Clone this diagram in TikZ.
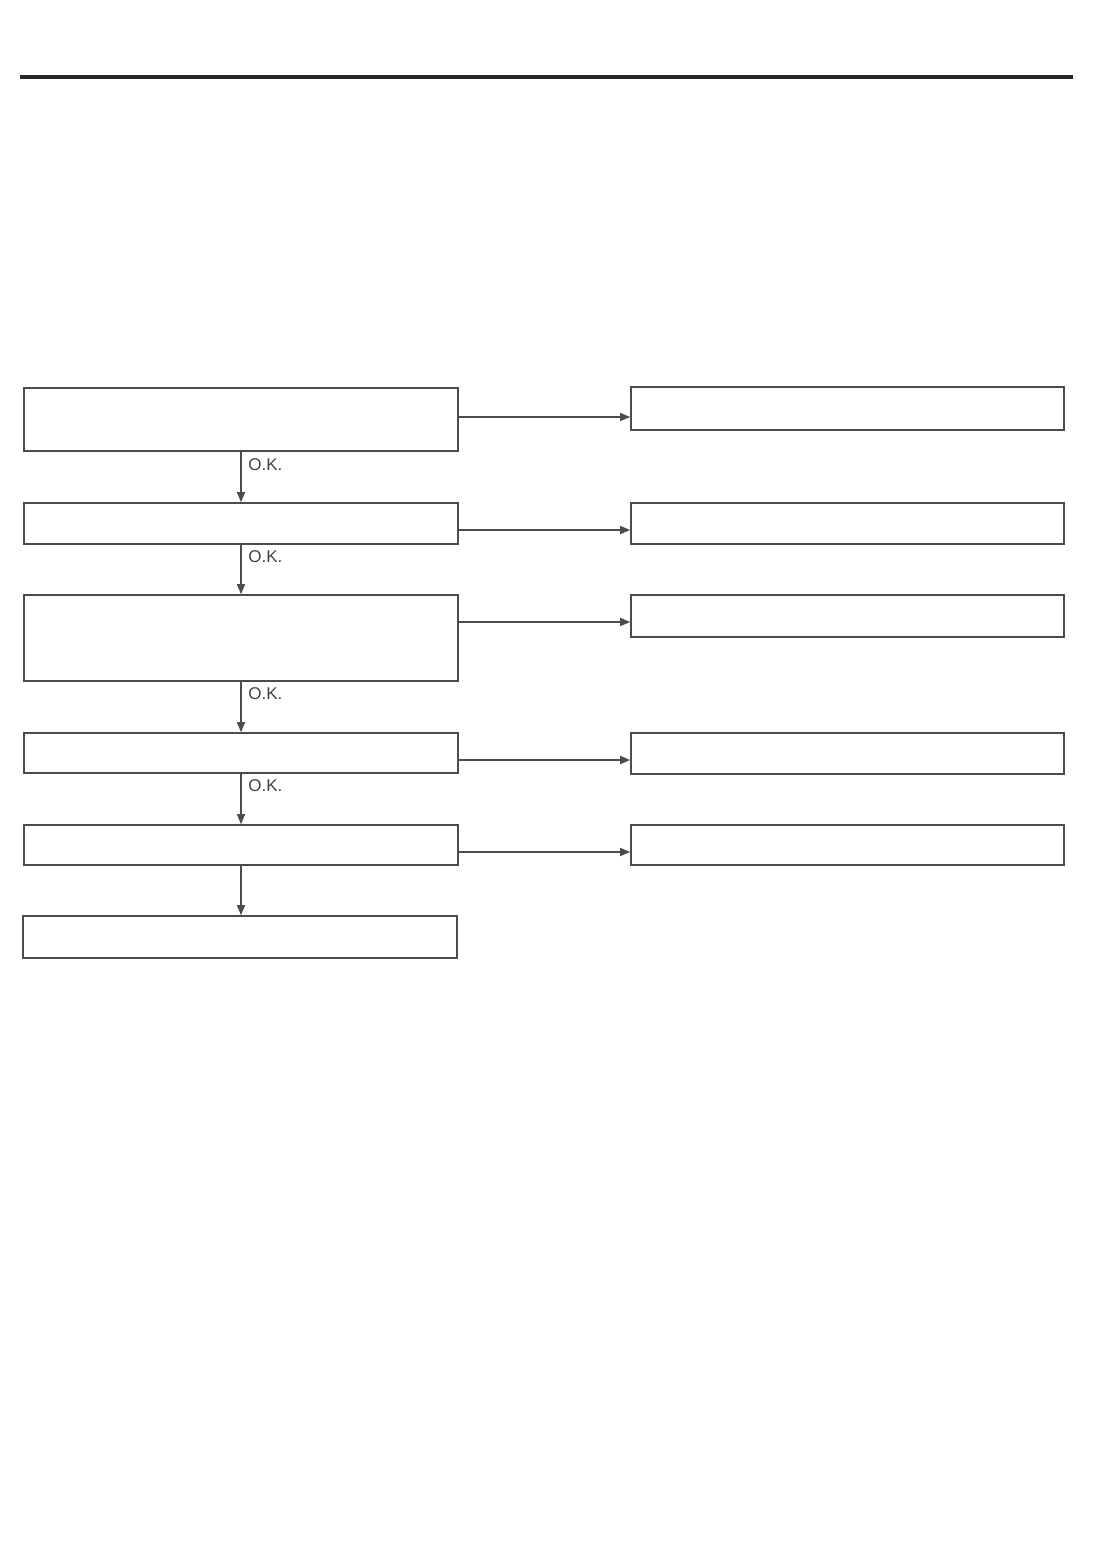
\documentclass[tikz,border=0pt]{standalone}
\usepackage{fontspec}
\setmainfont{Liberation Sans}
\usetikzlibrary{arrows.meta}
\begin{document}
\begin{tikzpicture}[x=0.5pt,y=-0.5pt,
  box/.style={draw=black!70, line width=0.8pt, rectangle, inner sep=0pt},
  link/.style={draw=black!70, line width=0.7pt, -{Triangle[length=5pt,width=4pt]}},
  ok/.style={font=\fontsize{8.5}{10}\selectfont, text=black!75, anchor=west, inner sep=0pt}]
\useasboundingbox (0,0) rectangle (1097,1568);
\draw[line width=2pt, black!85] (20,77) -- (1073,77);
% left column
\node[box, minimum width=217pt, minimum height=31.5pt] (s1) at (241,419.5) {};
\node[box, minimum width=217pt, minimum height=20.5pt] (s2) at (241,523.5) {};
\node[box, minimum width=217pt, minimum height=43pt] (s3) at (241,638) {};
\node[box, minimum width=217pt, minimum height=20pt] (s4) at (241,753) {};
\node[box, minimum width=217pt, minimum height=20pt] (s5) at (241,845) {};
\node[box, minimum width=217pt, minimum height=21pt] (s6) at (240,937) {};
% right column
\node[box, minimum width=216.5pt, minimum height=21.5pt] (r1) at (847.5,408.5) {};
\node[box, minimum width=216.5pt, minimum height=20.5pt] (r2) at (847.5,523.5) {};
\node[box, minimum width=216.5pt, minimum height=21pt] (r3) at (847.5,616) {};
\node[box, minimum width=216.5pt, minimum height=20.5pt] (r4) at (847.5,753.5) {};
\node[box, minimum width=216.5pt, minimum height=20pt] (r5) at (847.5,845) {};
% down the chain
\draw[link] (s1.south) -- (s2.north);
\draw[link] (s2.south) -- (s3.north);
\draw[link] (s3.south) -- (s4.north);
\draw[link] (s4.south) -- (s5.north);
\draw[link] (s5.south) -- (s5.south |- s6.north);
\node[ok] (ok1) at (248,465) {O.K.};
\node[ok] (ok2) at (248,557) {O.K.};
\node[ok] (ok3) at (248,694) {O.K.};
\node[ok] (ok4) at (248,786) {O.K.};
% across
\draw[link] (s1.east |- 0,417) -- (r1.west |- 0,417);
\draw[link] (s2.east |- 0,530) -- (r2.west |- 0,530);
\draw[link] (s3.east |- 0,622) -- (r3.west |- 0,622);
\draw[link] (s4.east |- 0,760) -- (r4.west |- 0,760);
\draw[link] (s5.east |- 0,852) -- (r5.west |- 0,852);
\end{tikzpicture}
\end{document}
